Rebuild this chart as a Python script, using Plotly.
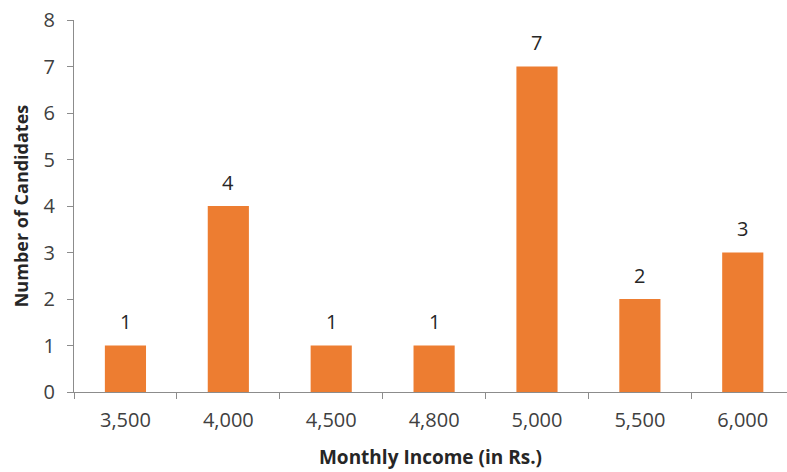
import plotly.graph_objects as go

incomes = ["3,500", "4,000", "4,500", "4,800", "5,000", "5,500", "6,000"]
candidates = [1, 4, 1, 1, 7, 2, 3]

fig = go.Figure(
    go.Bar(
        x=incomes,
        y=candidates,
        width=0.4,
        marker=dict(color="#ED7D31", line=dict(width=0)),
        hoverinfo="x+y",
    )
)

# value labels floating above each bar
for inc, n in zip(incomes, candidates):
    fig.add_annotation(
        x=inc, y=n, text=str(n), showarrow=False,
        yanchor="middle", yshift=24,
        font=dict(size=20, color="#262626", family="Open Sans"),
    )

axis_color = "#8C8C8C"
fig.update_layout(
    width=787,
    height=472,
    margin=dict(l=74, r=0, t=20, b=80),
    paper_bgcolor="white",
    plot_bgcolor="white",
    showlegend=False,
    font=dict(family="Open Sans", color="#262626"),
    xaxis=dict(
        type="category",
        range=[-0.5, 6.43],
        tickson="boundaries",
        ticks="outside",
        ticklen=6,
        tickcolor=axis_color,
        showline=True,
        linecolor=axis_color,
        linewidth=1,
        showgrid=False,
        tickfont=dict(size=20, color="#404040"),
        ticklabelstandoff=10,
        title=dict(text="<b>Monthly Income (in Rs.)</b>", font=dict(size=19, color="#262626"), standoff=18),
    ),
    yaxis=dict(
        range=[0, 8],
        dtick=1,
        ticks="outside",
        ticklen=6,
        tickcolor=axis_color,
        showline=True,
        linecolor=axis_color,
        linewidth=1,
        showgrid=False,
        zeroline=False,
        tickfont=dict(size=20, color="#404040"),
        ticklabelstandoff=8,
        title=dict(text="<b>Number of Candidates</b>", font=dict(size=18, color="#262626"), standoff=10),
    ),
)

fig.write_html("out.html")
